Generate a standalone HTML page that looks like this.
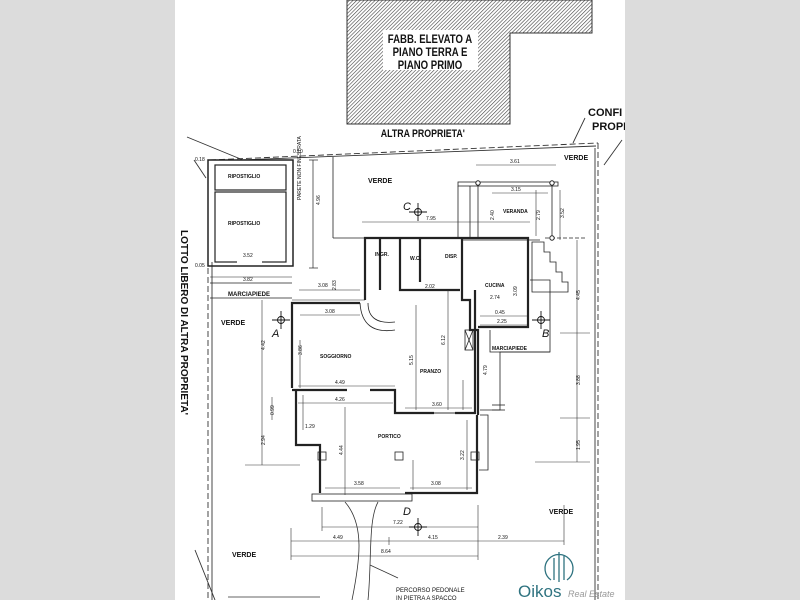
<!DOCTYPE html>
<html><head><meta charset="utf-8"><style>
html,body{margin:0;padding:0;background:#dcdcdc;}
svg{display:block}
text{font-family:"Liberation Sans",sans-serif;fill:#111}
.s{font-size:5px}
.l{font-size:7px;font-weight:bold}
</style></head><body>
<svg width="800" height="600" viewBox="0 0 800 600" xmlns="http://www.w3.org/2000/svg">
<defs>
<pattern id="h" width="2.6" height="2.6" patternUnits="userSpaceOnUse" patternTransform="rotate(45)">
<rect width="2.6" height="2.6" fill="#fff"/><line x1="0" y1="0" x2="0" y2="2.6" stroke="#444" stroke-width="1.2"/>
</pattern>
</defs>
<rect x="0" y="0" width="800" height="600" fill="#dcdcdc"/>
<rect x="175" y="0" width="450" height="600" fill="#fff"/>

<polygon points="347,0 592,0 592,33 510,33 510,124 347,124" fill="url(#h)" stroke="#333" stroke-width="1"/>
<rect x="383" y="30" width="95" height="40" fill="#fff"/>
<g transform="translate(430,0) scale(0.8,1)">
<text x="0" y="43" text-anchor="middle" style="font-size:12px;font-weight:bold">FABB. ELEVATO A</text>
<text x="0" y="56" text-anchor="middle" style="font-size:12px;font-weight:bold">PIANO TERRA E</text>
<text x="0" y="69" text-anchor="middle" style="font-size:12px;font-weight:bold">PIANO PRIMO</text>
</g>
<text x="381" y="137" style="font-size:11px;font-weight:bold" transform="translate(76,0) scale(0.8,1)">ALTRA PROPRIETA'</text>
<text x="588" y="116" style="font-size:11px;font-weight:bold">CONFI</text>
<text x="592" y="130" style="font-size:11px;font-weight:bold">PROPR</text>

<g stroke="#333" fill="none" stroke-width="0.9">
<line x1="210" y1="160" x2="598" y2="143" stroke-dasharray="6,3"/>
<line x1="240" y1="160" x2="596" y2="146"/>
<line x1="208" y1="160" x2="208" y2="600" stroke-dasharray="6,3"/>
<line x1="212" y1="262" x2="212" y2="600"/>
<line x1="598" y1="143" x2="598" y2="600" stroke-dasharray="6,3"/>
<line x1="595" y1="148" x2="595" y2="600"/>
<line x1="187" y1="137" x2="243" y2="160"/>
<line x1="194" y1="160" x2="206" y2="178"/>
<line x1="573" y1="143" x2="585" y2="118"/>
<line x1="604" y1="165" x2="622" y2="140"/>
<line x1="195" y1="550" x2="215" y2="600"/>
</g>
<text transform="translate(181,230) rotate(90)" style="font-size:10px;font-weight:bold">LOTTO LIBERO DI ALTRA PROPRIETA'</text>

<g stroke="#222" fill="none">
<rect x="208" y="160" width="85" height="106" stroke-width="1.5"/>
<rect x="215" y="165" width="71" height="25" stroke-width="1.2"/>
<rect x="215" y="192" width="71" height="70" stroke-width="1.2"/>
<line x1="237" y1="262" x2="262" y2="262" stroke="#fff" stroke-width="3"/>
<line x1="313" y1="160" x2="313" y2="268" stroke-width="0.7"/>
<line x1="309" y1="160" x2="318" y2="160" stroke-width="0.7"/>
<line x1="309" y1="268" x2="318" y2="268" stroke-width="0.7"/>
<line x1="333" y1="157" x2="333" y2="238" stroke-width="0.8"/>
<line x1="333" y1="238" x2="365" y2="238" stroke-width="0.8"/>
<line x1="210" y1="283" x2="292" y2="283" stroke-width="0.8"/>
<line x1="210" y1="298" x2="292" y2="298" stroke-width="0.8"/>
<line x1="210" y1="277" x2="292" y2="277" stroke-width="0.6"/>
<line x1="292" y1="300" x2="365" y2="300" stroke-width="0.6"/>
<line x1="299" y1="290" x2="360" y2="290" stroke-width="0.6"/>
</g>
<text x="228" y="178" class="s" style="font-weight:bold">RIPOSTIGLIO</text>
<text x="228" y="225" class="s" style="font-weight:bold">RIPOSTIGLIO</text>
<text x="243" y="257" class="s">3.52</text>
<text x="243" y="281" class="s">3.82</text>
<text x="318" y="287" class="s">3.08</text>
<text x="293" y="153" class="s">0.10</text>
<text x="195" y="161" class="s">0.18</text>
<text x="195" y="267" class="s">0.05</text>
<text x="228" y="296" class="s" style="font-size:6px;font-weight:bold">MARCIAPIEDE</text>
<text transform="translate(301,200) rotate(-90)" class="s">PARETE NON FINESTRATA</text>
<text transform="translate(320,205) rotate(-90)" class="s">4.96</text>
<text transform="translate(336,290) rotate(-90)" class="s">2.83</text>

<g stroke="#222" fill="none" stroke-width="2.2">
<polyline points="365,300 365,238 462,238"/>
<polyline points="462,238 528,238 528,327 478,327"/>
<polyline points="292,388 292,303 360,303"/>
<polyline points="292,390 347,390"/>
<polyline points="370,390 395,390 395,413 434,413"/>
<polyline points="455,413 475,413 475,290"/>
<polyline points="462,238 462,300 470,300 470,330 478,330 478,415"/>
<polyline points="296,390 296,445 320,445 320,493"/>
<polyline points="405,493 477,493 477,415"/>
<polyline points="400,238 400,290 460,290"/>
<polyline points="380,238 380,290"/>
<polyline points="420,238 420,282"/>
</g>
<g stroke="#222" fill="none" stroke-width="0.8">
<rect x="312" y="494" width="100" height="7"/>
<rect x="318" y="452" width="8" height="8"/>
<rect x="395" y="452" width="8" height="8"/>
<rect x="471" y="452" width="8" height="8"/>
<path d="M360,303 Q362,335 395,330"/>
<path d="M368,303 Q368,325 395,322"/>
<line x1="434" y1="413" x2="455" y2="413" stroke-width="2" stroke="#999"/>
<rect x="465" y="330" width="8" height="20"/>
<line x1="465" y1="330" x2="473" y2="350"/><line x1="473" y1="330" x2="465" y2="350"/>
<polyline points="490,330 490,352 550,352 550,280 530,280"/>
<polyline points="550,352 500,352 500,410 480,410"/>
<polyline points="480,415 488,415 488,470 479,470"/>
<line x1="492" y1="405" x2="505" y2="405"/><line x1="492" y1="410" x2="505" y2="410"/>
<rect x="458" y="182" width="100" height="4"/>
<polyline points="470,186 470,238"/>
<polyline points="458,186 458,238"/>
<line x1="478" y1="183" x2="478" y2="238"/>
<line x1="552" y1="183" x2="552" y2="238"/>
<line x1="462" y1="240" x2="540" y2="240"/>
<path d="M532,242 h12 v10 h6 v10 h6 v10 h6 v10 h6 v10 h-36 z"/>
<line x1="545" y1="238" x2="585" y2="238" stroke-dasharray="4,2"/>
</g>
<g fill="#fff" stroke="#222" stroke-width="1">
<circle cx="478" cy="183" r="2.2"/><circle cx="552" cy="183" r="2.2"/><circle cx="552" cy="238" r="2.2"/>
</g>
<text x="503" y="213" class="s" style="font-weight:bold">VERANDA</text>
<text x="375" y="256" class="s" style="font-weight:bold">INGR.</text>
<text x="410" y="260" class="s" style="font-weight:bold">W.C.</text>
<text x="445" y="258" class="s" style="font-weight:bold">DISP.</text>
<text x="485" y="287" class="s" style="font-weight:bold">CUCINA</text>
<text x="320" y="358" class="s" style="font-weight:bold">SOGGIORNO</text>
<text x="420" y="373" class="s" style="font-weight:bold">PRANZO</text>
<text x="378" y="438" class="s" style="font-weight:bold">PORTICO</text>
<text x="492" y="350" class="s" style="font-weight:bold">MARCIAPIEDE</text>

<g stroke="#333" stroke-width="0.6" fill="none">
<line x1="476" y1="165" x2="556" y2="165"/>
<line x1="492" y1="193" x2="548" y2="193"/>
<line x1="362" y1="222" x2="530" y2="222"/>
<line x1="536" y1="190" x2="536" y2="236"/>
<line x1="560" y1="190" x2="560" y2="240"/>
<line x1="300" y1="315" x2="360" y2="315"/>
<line x1="298" y1="386" x2="395" y2="386"/>
<line x1="298" y1="403" x2="393" y2="403"/>
<line x1="405" y1="408" x2="472" y2="408"/>
<line x1="480" y1="316" x2="527" y2="316"/>
<line x1="480" y1="325" x2="527" y2="325"/>
<line x1="325" y1="488" x2="400" y2="488"/>
<line x1="410" y1="488" x2="472" y2="488"/>
<line x1="322" y1="527" x2="478" y2="527"/>
<line x1="291" y1="541" x2="564" y2="541"/>
<line x1="291" y1="556" x2="478" y2="556"/>
<line x1="291" y1="528" x2="291" y2="560"/>
<line x1="322" y1="507" x2="322" y2="531"/>
<line x1="478" y1="505" x2="478" y2="560"/>
<line x1="564" y1="505" x2="564" y2="545"/>
<line x1="389" y1="537" x2="389" y2="545"/>
<line x1="262" y1="300" x2="262" y2="465"/>
<line x1="245" y1="465" x2="300" y2="465"/>
<line x1="272" y1="397" x2="272" y2="420"/>
<line x1="577" y1="240" x2="577" y2="462"/>
<line x1="535" y1="462" x2="590" y2="462"/>
<line x1="560" y1="333" x2="590" y2="333"/>
<line x1="560" y1="418" x2="590" y2="418"/>
<line x1="416" y1="305" x2="416" y2="410"/>
<line x1="448" y1="290" x2="448" y2="410"/>
<line x1="463" y1="380" x2="463" y2="410"/>
<line x1="345" y1="407" x2="345" y2="495"/>
<line x1="303" y1="395" x2="303" y2="430"/>
<line x1="467" y1="420" x2="467" y2="490"/>
<line x1="413" y1="460" x2="413" y2="490"/>
<line x1="300" y1="340" x2="300" y2="388"/>
</g>
<g class="s">
<text x="510" y="163" class="s">3.61</text>
<text x="511" y="191" class="s">3.15</text>
<text x="426" y="220" class="s">7.95</text>
<text x="325" y="313" class="s">3.08</text>
<text x="335" y="384" class="s">4.49</text>
<text x="335" y="401" class="s">4.26</text>
<text x="432" y="406" class="s">3.60</text>
<text x="495" y="314" class="s">0.45</text>
<text x="497" y="323" class="s">2.25</text>
<text x="490" y="299" class="s">2.74</text>
<text x="425" y="288" class="s">2.02</text>
<text x="354" y="485" class="s">3.58</text>
<text x="431" y="485" class="s">3.08</text>
<text x="393" y="524" class="s">7.22</text>
<text x="333" y="539" class="s">4.49</text>
<text x="428" y="539" class="s">4.15</text>
<text x="498" y="539" class="s">2.39</text>
<text x="381" y="553" class="s">8.64</text>
<text x="305" y="428" class="s">1.29</text>
<text transform="translate(265,350) rotate(-90)" class="s">4.42</text>
<text transform="translate(265,445) rotate(-90)" class="s">2.94</text>
<text transform="translate(274,415) rotate(-90)" class="s">0.99</text>
<text transform="translate(580,300) rotate(-90)" class="s">4.45</text>
<text transform="translate(580,385) rotate(-90)" class="s">3.88</text>
<text transform="translate(580,450) rotate(-90)" class="s">1.95</text>
<text transform="translate(413,365) rotate(-90)" class="s">5.15</text>
<text transform="translate(445,345) rotate(-90)" class="s">6.12</text>
<text transform="translate(487,375) rotate(-90)" class="s">4.79</text>
<text transform="translate(343,455) rotate(-90)" class="s">4.44</text>
<text transform="translate(464,460) rotate(-90)" class="s">3.22</text>
<text transform="translate(302,355) rotate(-90)" class="s">3.86</text>
<text transform="translate(494,220) rotate(-90)" class="s">2.40</text>
<text transform="translate(540,220) rotate(-90)" class="s">2.79</text>
<text transform="translate(564,218) rotate(-90)" class="s">3.52</text>
<text transform="translate(517,296) rotate(-90)" class="s">3.09</text>
</g>

<g stroke="#333" fill="none" stroke-width="0.8">
<path d="M345,502 C365,525 360,560 352,600"/>
<path d="M378,502 C368,520 372,560 368,600"/>
<line x1="228" y1="597" x2="320" y2="597"/>
<line x1="370" y1="565" x2="398" y2="578"/>
</g>
<text x="396" y="592" class="s" style="font-size:6px">PERCORSO PEDONALE</text>
<text x="396" y="600" class="s" style="font-size:6px">IN PIETRA A SPACCO</text>

<g stroke="#111" fill="none" stroke-width="0.9">
<circle cx="418" cy="212" r="3.5"/><line x1="409" y1="212" x2="427" y2="212"/><line x1="418" y1="203" x2="418" y2="221"/>
<circle cx="281" cy="320" r="3.5"/><line x1="272" y1="320" x2="290" y2="320"/><line x1="281" y1="311" x2="281" y2="329"/>
<circle cx="541" cy="320" r="3.5"/><line x1="532" y1="320" x2="550" y2="320"/><line x1="541" y1="311" x2="541" y2="329"/>
<circle cx="418" cy="527" r="3.5"/><line x1="409" y1="527" x2="427" y2="527"/><line x1="418" y1="518" x2="418" y2="536"/>
</g>
<text x="403" y="210" style="font-size:11px;font-style:italic">C</text>
<text x="272" y="337" style="font-size:11px;font-style:italic">A</text>
<text x="542" y="337" style="font-size:11px;font-style:italic">B</text>
<text x="403" y="515" style="font-size:11px;font-style:italic">D</text>

<text x="368" y="183" class="l">VERDE</text>
<text x="564" y="160" class="l">VERDE</text>
<text x="221" y="325" class="l">VERDE</text>
<text x="549" y="514" class="l">VERDE</text>
<text x="232" y="557" class="l">VERDE</text>

<g stroke="#2f7380" fill="none" stroke-width="1.3">
<path d="M551,580 A14,14 0 1 1 567,580"/>
<line x1="554" y1="558" x2="554" y2="580"/><line x1="559" y1="552" x2="559" y2="582"/><line x1="564" y1="556" x2="564" y2="580"/>
</g>
<text x="518" y="597" style="font-size:17px;fill:#2f7380">Oikos</text>
<text x="568" y="597" style="font-size:9px;fill:#999;font-style:italic">Real Estate</text>

<rect x="625" y="0" width="175" height="600" fill="#dcdcdc"/>
<rect x="0" y="0" width="175" height="600" fill="#dcdcdc"/>
</svg>
</body></html>
